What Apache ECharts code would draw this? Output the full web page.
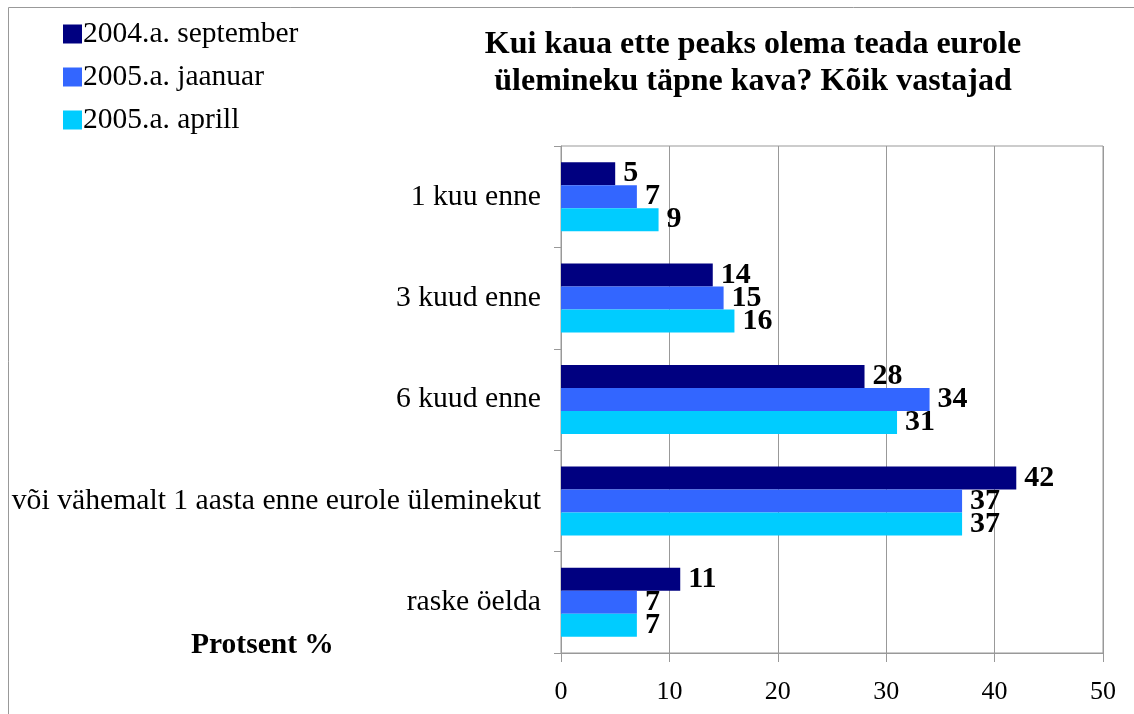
<!DOCTYPE html>
<html>
<head>
<meta charset="utf-8">
<style>
  html, body { margin: 0; padding: 0; background: #fff; }
  #chart { width: 1134px; height: 714px; }
</style>
<script src="https://cdn.jsdelivr.net/npm/echarts@6/dist/echarts.min.js"></script>
</head>
<body>
<div id="chart"></div>
<script>
const categories = ['1 kuu enne', '3 kuud enne', '6 kuud enne', 'või vähemalt 1 aasta enne eurole üleminekut', 'raske öelda']
const seriesNames = ['2004.a. september', '2005.a. jaanuar', '2005.a. aprill']
const sep2004 = [5, 14, 28, 42, 11]
const jan2005 = [7, 15, 34, 37, 7]
const apr2005 = [9, 16, 31, 37, 7]
const colors = ['#000080', '#3366FF', '#00CCFF']

const serif = '"Liberation Serif", "DejaVu Serif", serif'
const chart = echarts.init(document.getElementById('chart'))

function makeSeries(name, data, color) {
  return {
    name: name,
    type: 'bar',
    data: data,
    barGap: '0%',
    barCategoryGap: '32%',
    itemStyle: { color: color },
    label: {
      show: true,
      position: 'right',
      distance: 8,
      color: '#000',
      fontFamily: serif,
      fontWeight: 'bold',
      fontSize: 30
    }
  }
}

chart.setOption({
  animation: false,
  color: colors,
  title: {
    text: 'Kui kaua ette peaks olema teada eurole\nülemineku täpne kava? Kõik vastajad',
    left: 748,
    top: 21,
    textAlign: 'center',
    textStyle: {
      fontFamily: serif,
      fontWeight: 'bold',
      fontSize: 32,
      lineHeight: 37,
      color: '#000'
    }
  },
  legend: {
    orient: 'vertical',
    left: 58,
    top: 14,
    itemWidth: 19,
    itemHeight: 19,
    itemGap: 13,
    icon: 'rect',
    textStyle: { fontFamily: serif, fontSize: 29.5, color: '#000', padding: [0, 0, 0, -4] },
    data: seriesNames
  },
  grid: {
    left: 561,
    right: 31,
    top: 146,
    bottom: 61,
    show: true,
    borderColor: '#999',
    borderWidth: 1
  },
  xAxis: {
    type: 'value',
    min: 0,
    max: 50,
    interval: 10,
    axisLine: { show: true, lineStyle: { color: '#999' } },
    axisTick: { show: true, length: 9, lineStyle: { color: '#999' } },
    axisLabel: { fontFamily: serif, fontSize: 26, color: '#000', margin: 26 },
    splitLine: { show: true, lineStyle: { color: '#999' } }
  },
  yAxis: {
    type: 'category',
    inverse: true,
    data: categories,
    axisLine: { show: true, lineStyle: { color: '#999' } },
    axisTick: { show: true, length: 7, lineStyle: { color: '#999' } },
    axisLabel: { fontFamily: serif, fontSize: 29.7, color: '#000', margin: 20 }
  },
  graphic: [
    {
      type: 'rect',
      shape: { x: 8.5, y: 7.5, width: 1200, height: 800 },
      style: { fill: 'none', stroke: '#999', lineWidth: 1 },
      silent: true,
      z: -1
    },
    {
      type: 'text',
      left: 191,
      top: 630,
      style: {
        text: 'Protsent %',
        fontFamily: serif,
        fontWeight: 'bold',
        fontSize: 29.5,
        fill: '#000'
      }
    }
  ],
  series: [
    makeSeries(seriesNames[0], sep2004, colors[0]),
    makeSeries(seriesNames[1], jan2005, colors[1]),
    makeSeries(seriesNames[2], apr2005, colors[2])
  ]
})
</script>
</body>
</html>
